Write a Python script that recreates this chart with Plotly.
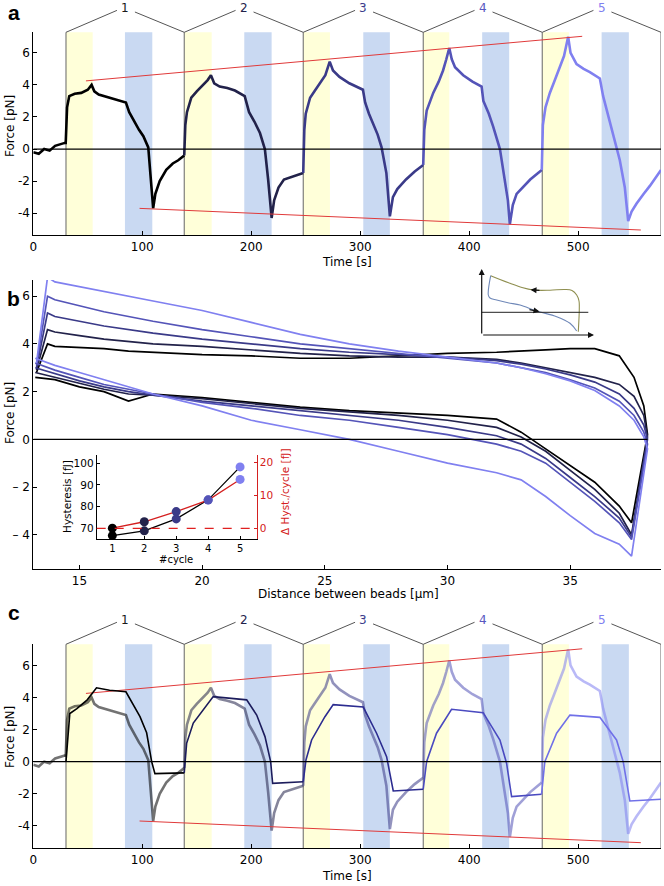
import plotly.graph_objects as go

W, H = 664, 886
FONT = "DejaVu Sans"

# ---------------- data ----------------
cycle_colors = ["#000000", "#22224a", "#3a3a88", "#5454b8", "#8080f0"]
label_colors = ["#1a1a1a", "#22224a", "#3c3c8c", "#5858c0", "#8080f0"]
cycle_labels = ["1", "2", "3", "4", "5"]
cycle_bounds = [30, 138.5, 247.7, 357.8, 467, 576]
yellow_start = [30, 138.5, 247.7, 357.8, 467]
yellow_end = [54.5, 163.7, 272.2, 381.7, 491.5]
blue_start = [84.1, 193.6, 302.8, 411.9, 521.5]
blue_end = [109.2, 218.7, 327.2, 436.7, 546.5]

pre_t = [0, 5, 10, 15, 20, 25, 29.7]
pre_f = [-0.2, -0.3, 0.0, -0.1, 0.2, 0.3, 0.4]

trace_t = [
    [29.7, 31, 33, 38, 44, 50, 53.5, 56, 60, 70, 80, 85, 88, 92, 97, 101, 105.5, 107.5, 110, 112, 116, 122, 128, 133, 138.5],
    [138.5, 139.5, 141, 145, 150, 156, 160, 163, 166, 171, 178, 185, 194, 198, 203, 208, 212.5, 215.5, 218.7, 221, 225, 230, 238, 247.7],
    [247.7, 248.7, 250, 254, 258, 263, 268, 272, 275, 281, 290, 302.5, 304.5, 308, 312, 316, 319.6, 324, 327.2, 330, 334, 342, 350, 357.8],
    [357.8, 358.8, 361, 364, 367, 372, 376, 379, 381.7, 384, 387, 394.5, 403, 411.4, 413, 418, 422, 428.2, 432.7, 435.5, 437.3, 440, 443.5, 450, 456, 466.6],
    [466.6, 467.6, 470, 474, 478, 483, 487, 490.8, 493, 498.5, 505, 510.7, 519.9, 522.9, 527, 532, 538.2, 542.8, 545.9, 549, 553.6, 560, 565.8, 576],
]
trace_f = [
    [0.3, 2.6, 3.3, 3.45, 3.5, 3.7, 4.0, 3.6, 3.4, 3.2, 3.0, 2.9, 2.3, 1.8, 1.2, 0.8, 0.1, -1.6, -3.7, -2.8, -2.0, -1.3, -0.9, -0.7, -0.4],
    [-0.4, 1.5, 2.3, 3.2, 3.6, 4.0, 4.3, 4.6, 4.1, 3.9, 3.8, 3.65, 3.3, 2.3, 1.7, 1.0, 0.0, -1.9, -4.3, -3.2, -2.4, -1.9, -1.7, -1.5],
    [-1.5, 1.2, 2.2, 3.2, 3.6, 4.1, 4.6, 5.45, 4.9, 4.5, 4.1, 3.7, 2.9, 2.2, 1.6, 0.9, 0.1, -1.5, -4.2, -3.0, -2.5, -1.9, -1.4, -1.0],
    [-1.0, 1.2, 2.4, 3.0, 3.5, 4.2, 4.9, 5.6, 6.3, 5.6, 5.1, 4.6, 4.2, 3.9, 3.0, 2.2, 1.4, 0.0, -1.9, -3.2, -4.7, -3.5, -2.8, -2.3, -1.9, -1.3],
    [-1.3, 1.5, 2.6, 3.5, 4.2, 5.1, 5.8, 7.0, 6.0, 5.3, 5.0, 4.8, 4.4, 3.3, 2.2, 1.0, -0.7, -2.4, -4.5, -3.9, -3.4, -2.8, -2.3, -1.3],
]

# envelope guide lines (time, force)
env_up_t = [48.3, 503.7]
env_up_f = [4.25, 7.03]
env_lo_t = [97.5, 557.5]
env_lo_f = [-3.7, -5.05]

# model traces of panel c
model_t = [
    [30, 33.5, 40, 49.5, 58, 70, 85, 97.9, 104, 108.6, 111.6, 138.5],
    [138.5, 140.7, 146.8, 156, 165.1, 195.8, 205, 212.6, 217.8, 219.6, 247.7],
    [247.7, 250.2, 255.4, 267.6, 275.2, 302.8, 315, 324.2, 330.3, 357.8],
    [357.8, 360.9, 370, 383.8, 412.8, 428.2, 434.3, 438.9, 466.4],
    [466.4, 469.4, 480.2, 492.4, 519.9, 535.2, 541.3, 547.4, 576],
]
model_f = [
    [0, 3.0, 3.3, 3.85, 4.6, 4.45, 4.35, 2.8, 1.8, 0, -0.75, -0.7],
    [-0.7, 1.14, 2.4, 3.2, 4.05, 3.85, 2.9, 1.56, 0, -1.35, -1.25],
    [-1.25, 0.1, 1.35, 2.8, 3.55, 3.4, 1.77, 0.31, -1.83, -1.72],
    [-1.72, 0, 1.77, 3.26, 3.05, 1.35, -0.1, -2.18, -2.03],
    [-2.03, 0, 1.77, 2.9, 2.76, 1.35, 0, -2.45, -2.34],
]
model_colors = ["#000000", "#1c1c5c", "#2c2c90", "#4a4ac0", "#7070e8"]

# panel b: force vs distance
x_up = [13.25, 13.7, 14, 15, 16, 17, 18, 20, 22, 24, 26, 28, 30, 32, 33, 34, 35, 36, 37, 37.6, 38.0, 38.15]
f_up = [
    [2.8, 4.0, 3.9, 3.85, 3.8, 3.7, 3.65, 3.55, 3.5, 3.4, 3.4, 3.5, 3.6, 3.65, 3.7, 3.75, 3.8, 3.8, 3.5, 2.6, 1.4, 0.2],
    [2.9, 4.6, 4.5, 4.35, 4.2, 4.1, 4.0, 3.9, 3.75, 3.6, 3.5, 3.45, 3.45, 3.35, 3.2, 3.0, 2.8, 2.6, 2.3, 1.8, 1.0, 0.1],
    [3.0, 5.3, 5.15, 4.95, 4.75, 4.6, 4.45, 4.2, 4.0, 3.8, 3.65, 3.55, 3.45, 3.3, 3.15, 2.95, 2.7, 2.4, 1.9, 1.3, 0.6, 0.0],
    [3.1, 6.0, 5.85, 5.6, 5.35, 5.15, 4.95, 4.6, 4.3, 4.0, 3.8, 3.6, 3.4, 3.2, 3.0, 2.8, 2.5, 2.15, 1.6, 1.0, 0.3, -0.2],
    [3.2, 6.8, 6.6, 6.4, 6.2, 6.0, 5.8, 5.4, 4.9, 4.4, 4.0, 3.7, 3.45, 3.2, 3.0, 2.75, 2.45, 2.05, 1.4, 0.8, 0.1, -0.4],
]
x_lo = [13.2, 14, 15, 16, 17, 18, 20, 22, 24, 26, 28, 30, 32, 33, 34, 35, 36, 37, 37.5]
f_lo = [
    [2.6, 2.5, 2.2, 2.0, 1.6, 1.9, 1.75, 1.55, 1.35, 1.2, 1.1, 1.0, 0.85, 0.3, -0.4, -1.1, -1.8, -2.8, -3.5],
    [2.8, 2.6, 2.35, 2.1, 1.9, 1.85, 1.7, 1.5, 1.3, 1.15, 1.0, 0.8, 0.5, 0.1, -0.5, -1.3, -2.1, -3.1, -4.0],
    [3.0, 2.75, 2.45, 2.2, 2.0, 1.85, 1.6, 1.4, 1.2, 1.0, 0.8, 0.5, 0.15, -0.2, -0.8, -1.6, -2.4, -3.3, -4.1],
    [3.2, 2.9, 2.6, 2.3, 2.1, 1.9, 1.55, 1.3, 1.0, 0.8, 0.5, 0.2, -0.2, -0.5, -1.0, -1.8, -2.6, -3.5, -4.2],
    [3.4, 3.1, 2.8, 2.5, 2.2, 1.9, 1.4, 0.8, 0.4, 0.0, -0.5, -1.0, -1.4, -1.7, -2.4, -3.2, -3.95, -4.4, -4.9],
]

# hysteresis inset
cycles = [1, 2, 3, 4, 5]
hysteresis = [66.6, 68.8, 74.3, 83.1, 98.3]
delta_hyst = [0.05, 2.0, 5.1, 8.6, 14.9]

# schematic inset (drawing units)
sch_up_x = [490.7, 500, 510, 522, 533.3, 550, 565, 572, 576.7, 579, 579.3, 578.3]
sch_up_y = [275.7, 279.5, 283.3, 287.5, 290, 290.2, 289.5, 290.5, 295, 301, 308.3, 331.7]
sch_lo_x = [490.7, 488.3, 490, 496.7, 508, 520, 536.7, 556.7, 570, 576.7]
sch_lo_y = [275.7, 295, 298, 300, 302.8, 305, 311, 316.7, 323.3, 331]

# ---------------- helpers ----------------
def py(p):
    return 1 - p / H

def px(p):
    return p / W

fig = go.Figure()

# panels a and c: time traces
for ax_id, faded in (("", False), ("3", True)):
    xa, ya = "x" + ax_id, "y" + ax_id
    op = 0.55 if faded else 1.0
    fig.add_trace(go.Scatter(x=pre_t, y=pre_f, mode="lines", xaxis=xa, yaxis=ya,
                             line=dict(color=cycle_colors[0], width=2.6), opacity=op,
                             showlegend=False, hoverinfo="skip"))
    for i in range(5):
        fig.add_trace(go.Scatter(x=trace_t[i], y=trace_f[i], mode="lines", xaxis=xa, yaxis=ya,
                                 line=dict(color=cycle_colors[i], width=2.6), opacity=op,
                                 showlegend=False, hoverinfo="skip"))
    fig.add_trace(go.Scatter(x=env_up_t, y=env_up_f, mode="lines", xaxis=xa, yaxis=ya,
                             line=dict(color="#e03a3a", width=1), showlegend=False, hoverinfo="skip"))
    fig.add_trace(go.Scatter(x=env_lo_t, y=env_lo_f, mode="lines", xaxis=xa, yaxis=ya,
                             line=dict(color="#e03a3a", width=1), showlegend=False, hoverinfo="skip"))

for i in range(5):
    fig.add_trace(go.Scatter(x=model_t[i], y=model_f[i], mode="lines", xaxis="x3", yaxis="y3",
                             line=dict(color=model_colors[i], width=1.6),
                             showlegend=False, hoverinfo="skip"))

# panel b: loops
for i in range(5):
    lx = x_lo + x_up[::-1]
    ly = f_lo[i] + f_up[i][::-1]
    fig.add_trace(go.Scatter(x=lx, y=ly, mode="lines", xaxis="x2", yaxis="y2",
                             line=dict(color=cycle_colors[i], width=1.7),
                             showlegend=False, hoverinfo="skip"))

# hysteresis inset
fig.add_trace(go.Scatter(x=cycles, y=delta_hyst, mode="lines+markers", xaxis="x4", yaxis="y5",
                         line=dict(color="#d42020", width=1.3),
                         marker=dict(color=cycle_colors, size=9),
                         showlegend=False, hoverinfo="skip"))
fig.add_trace(go.Scatter(x=cycles, y=hysteresis, mode="lines+markers", xaxis="x4", yaxis="y4",
                         line=dict(color="#000000", width=1.3),
                         marker=dict(color=cycle_colors, size=9),
                         showlegend=False, hoverinfo="skip"))

# schematic
fig.add_trace(go.Scatter(x=sch_up_x, y=sch_up_y, mode="lines", xaxis="x6", yaxis="y6",
                         line=dict(color="#8f8f50", width=1.1, shape="spline"),
                         showlegend=False, hoverinfo="skip"))
fig.add_trace(go.Scatter(x=sch_lo_x, y=sch_lo_y, mode="lines", xaxis="x6", yaxis="y6",
                         line=dict(color="#6f88b8", width=1.1, shape="spline"),
                         showlegend=False, hoverinfo="skip"))

shapes = []
annotations = []

for ax_id in ("", "3"):
    xa, ya = "x" + ax_id, "y" + ax_id
    for i in range(5):
        shapes.append(dict(type="rect", xref=xa, yref=ya + " domain", x0=yellow_start[i], x1=yellow_end[i],
                           y0=0, y1=1, fillcolor="#ffffd9", line=dict(width=0), layer="below"))
        shapes.append(dict(type="rect", xref=xa, yref=ya + " domain", x0=blue_start[i], x1=blue_end[i],
                           y0=0, y1=1, fillcolor="#c9d9f2", line=dict(width=0), layer="below"))
    for b in cycle_bounds:
        shapes.append(dict(type="line", xref=xa, yref=ya + " domain", x0=b, x1=b, y0=0, y1=1,
                           line=dict(color="#666666", width=1), layer="below"))
    for i in range(5):
        s, e = cycle_bounds[i], cycle_bounds[i + 1]
        mid = (s + e) / 2
        shapes.append(dict(type="line", xref=xa, yref=ya + " domain", x0=s, y0=1, x1=mid - 7.5, y1=1.108,
                           line=dict(color="#555555", width=1)))
        shapes.append(dict(type="line", xref=xa, yref=ya + " domain", x0=mid + 9, y0=1.1, x1=e, y1=1,
                           line=dict(color="#555555", width=1)))
        annotations.append(dict(text=cycle_labels[i], xref=xa, yref=ya + " domain", x=mid, y=1.12,
                                xanchor="center", yanchor="middle",
                                showarrow=False, font=dict(family=FONT, size=12, color=label_colors[i])))
    shapes.append(dict(type="line", xref=xa, yref=ya, x0=0, x1=576, y0=0, y1=0,
                       line=dict(color="#000000", width=1.3)))

shapes.append(dict(type="line", xref="x2", yref="y2", x0=13.12, x1=38.15, y0=0, y1=0,
                   line=dict(color="#000000", width=1.3)))
shapes.append(dict(type="line", xref="x4 domain", yref="y5", x0=0, x1=1, y0=0, y1=0,
                   line=dict(color="#e02020", width=1.2, dash="dash")))
# schematic axes
shapes.append(dict(type="line", xref="x6", yref="y6", x0=481.7, x1=588.3, y0=312.3, y1=312.3,
                   line=dict(color="#222222", width=1)))

for (x0, y0, x1, y1, col) in [
    (481.7, 335, 481.7, 269, "#111111"),
    (481.7, 335, 594, 335, "#111111"),
    (541, 290.4, 530.5, 289.8, "#111111"),
    (528, 309.3, 539.5, 311.6, "#111111"),
]:
    annotations.append(dict(x=x1, y=y1, ax=x0, ay=y0, xref="x6", yref="y6", axref="x6", ayref="y6",
                            showarrow=True, arrowhead=2, arrowsize=1, arrowwidth=1.2, arrowcolor=col, text=""))

# panel letters
for letter, ypix in (("a", 12), ("b", 298), ("c", 612)):
    annotations.append(dict(text="<b>%s</b>" % letter, xref="paper", yref="paper", x=px(14), y=py(ypix),
                            xanchor="center", yanchor="middle",
                            showarrow=False, font=dict(family="Liberation Sans", size=21, color="#000")))

# axis titles
def title(text, xp, yp, angle=0, size=12, color="#000"):
    annotations.append(dict(text=text, xref="paper", yref="paper", x=px(xp), y=py(yp), showarrow=False,
                            xanchor="center", yanchor="middle",
                            textangle=angle, font=dict(family=FONT, size=size, color=color)))

title("Force [pN]", 10, 126, -90)
title("Time [s]", 347, 262)
title("Force [pN]", 10, 413, -90)
title("Distance between beads [µm]", 348, 594)
title("Force [pN]", 10, 737, -90)
title("Time [s]", 347, 876)
title("Hysteresis [fJ]", 67, 497, -90, 10.5)
title("Δ Hyst./cycle [fJ]", 285, 492, -90, 10.5, "#d42020")
title("#cycle", 176, 559, 0, 10)

axis_common = dict(showline=True, linecolor="#000", linewidth=1, ticks="inside", ticklen=4,
                   tickcolor="#000", showgrid=False, zeroline=False, automargin=False,
                   tickfont=dict(family=FONT, size=12, color="#000"))

xa_dom = [px(33.3), px(661)]
fig.update_layout(
    template="none",
    width=W, height=H, margin=dict(l=0, r=0, t=0, b=0, pad=0, autoexpand=False),
    paper_bgcolor="white", plot_bgcolor="rgba(0,0,0,0)",
    showlegend=False,
    xaxis=dict(axis_common, domain=xa_dom, range=[0, 576], anchor="y",
               tickvals=[0, 100, 200, 300, 400, 500]),
    yaxis=dict(axis_common, domain=[py(235.3), py(32.3)], range=[-5.38, 7.28], anchor="x",
               tickvals=[-4, -2, 0, 2, 4, 6], ticktext=["-4", "-2", "0", "2", "4", "6"]),
    xaxis2=dict(axis_common, domain=xa_dom, range=[13.12, 38.7], anchor="y2",
                tickvals=[15, 20, 25, 30, 35]),
    yaxis2=dict(axis_common, domain=[py(569.3), py(280)], range=[-5.45, 6.68], anchor="x2",
                tickvals=[-4, -2, 0, 2, 4, 6], ticktext=["– 4", "– 2", "0", "2", "4", "6"]),
    xaxis3=dict(axis_common, domain=xa_dom, range=[0, 576], anchor="y3",
                tickvals=[0, 100, 200, 300, 400, 500]),
    yaxis3=dict(axis_common, domain=[py(848.3), py(644.3)], range=[-5.4, 7.31], anchor="x3",
                tickvals=[-4, -2, 0, 2, 4, 6], ticktext=["-4", "-2", "0", "2", "4", "6"]),
    xaxis4=dict(axis_common, domain=[px(96.7), px(256.7)], range=[0.51, 5.52], anchor="y4",
                tickvals=[1, 2, 3, 4, 5], tickfont=dict(family=FONT, size=10, color="#000"), ticklen=3),
    yaxis4=dict(axis_common, domain=[py(539.3), py(455)], range=[64.9, 103.8], anchor="x4",
                tickvals=[70, 80, 90, 100], tickfont=dict(family=FONT, size=10.5, color="#000"), ticklen=3),
    yaxis5=dict(axis_common, overlaying="y4", side="right", anchor="x4", range=[-3.35, 22.35],
                tickvals=[0, 10, 20], linecolor="#d42020", tickcolor="#d42020", ticklen=3,
                tickfont=dict(family=FONT, size=10.5, color="#d42020")),
    xaxis6=dict(domain=[px(470), px(610)], range=[470, 610], anchor="y6", visible=False, fixedrange=True),
    yaxis6=dict(domain=[py(345), py(255)], range=[345, 255], anchor="x6", visible=False, fixedrange=True),
    shapes=shapes, annotations=annotations,
)

fig.write_html("out.html", config={"displayModeBar": False},
               post_script="document.body.style.margin='0';document.body.style.overflow='hidden';")
